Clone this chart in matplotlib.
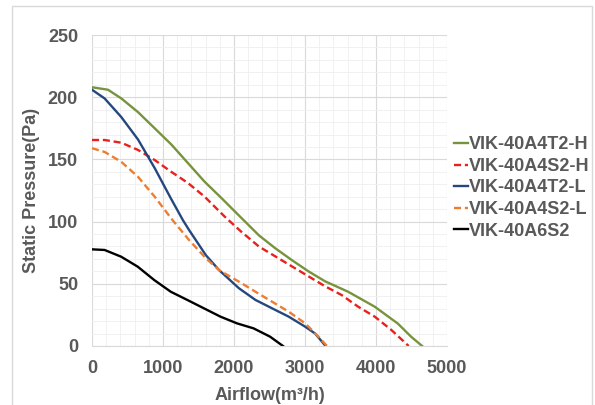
import matplotlib
matplotlib.use("Agg")
import matplotlib.pyplot as plt
from matplotlib.patches import Rectangle
from matplotlib.ticker import MultipleLocator

plt.rcParams['font.family'] = ['Liberation Sans', 'DejaVu Sans']

labels = ["VIK-40A4T2-H", "VIK-40A4S2-H", "VIK-40A4T2-L", "VIK-40A4S2-L", "VIK-40A6S2"]

g_x = [0, 225, 413, 648, 883, 1117, 1352, 1587, 1822, 2103, 2350, 2583, 2816, 3049, 3283, 3608, 3982, 4308, 4494, 4650]
g_y = [208, 206, 199, 188, 175, 162, 147, 132, 119, 103, 89, 78.5, 69, 60, 52, 43.6, 31.6, 18, 7.5, 0]

r_x = [0, 178, 413, 648, 883, 1117, 1352, 1587, 1869, 2100, 2350, 2583, 2816, 3049, 3283, 3515, 3748, 3982, 4214, 4460]
r_y = [165.6, 165.6, 163.4, 157.6, 149.5, 140, 131, 120, 104, 92, 80, 72, 64, 56, 48, 41, 31.6, 23.6, 13, 0]

b_x = [0, 178, 413, 648, 883, 1117, 1282, 1370, 1604, 1790, 2070, 2303, 2536, 2770, 3003, 3143, 3290]
b_y = [206, 199, 184, 166, 143, 118, 101, 93, 73, 61, 46.4, 37, 30.3, 23.6, 15.5, 10, 0]

o_x = [0, 178, 413, 648, 883, 1137, 1370, 1604, 1790, 2070, 2303, 2536, 2770, 3003, 3190, 3310]
o_y = [159, 156, 148, 136, 120, 101, 85, 70.5, 61, 51.7, 43.6, 35.6, 27.6, 18.2, 7.5, 0]

k_x = [0, 177, 410, 643, 877, 1110, 1343, 1576, 1809, 2042, 2275, 2508, 2690]
k_y = [77.7, 77.2, 71.8, 63.8, 53, 43.6, 37, 30.3, 23.6, 18.2, 14.2, 7.5, 0]

colors = ["#77933C", "#E8211D", "#24487E", "#ED7D31", "#000000"]
styles = ["-", (0, (3, 1.6)), "-", (0, (3, 1.6)), "-"]
series = [(g_x, g_y), (r_x, r_y), (b_x, b_y), (o_x, o_y), (k_x, k_y)]

fig = plt.figure(figsize=(5.95, 4.05), dpi=100)
ax = fig.add_axes([92/595, 1-346/405, (447-92)/595, (346-35)/405])

for (xs, ys), c, ls, lab in zip(series, colors, styles, labels):
    ax.plot(xs, ys, color=c, linestyle=ls, linewidth=1.7, label=lab,
            solid_joinstyle='round', dash_joinstyle='round')

ax.set_xlim(0, 5000)
ax.set_ylim(0, 250)
ax.xaxis.set_major_locator(MultipleLocator(1000))
ax.xaxis.set_minor_locator(MultipleLocator(200))
ax.yaxis.set_major_locator(MultipleLocator(50))
ax.yaxis.set_minor_locator(MultipleLocator(10))
ax.grid(which='major', color='#D9D9D9', linewidth=0.8)
ax.grid(which='minor', color='#EFEFEF', linewidth=0.6)
ax.set_axisbelow(True)
for s in ['top', 'right', 'left']:
    ax.spines[s].set_visible(False)
ax.spines['bottom'].set_color('#D9D9D9')
ax.tick_params(which='both', length=0, colors='#595959', labelsize=13)
ax.tick_params(axis='x', pad=10)
ax.tick_params(axis='y', pad=10)
for t in ax.get_xticklabels() + ax.get_yticklabels():
    t.set_fontweight('bold')

ax.set_xlabel("Airflow(m³/h)", fontsize=13, fontweight='bold', color='#595959', labelpad=7)
ax.set_ylabel("Static Pressure(Pa)", fontsize=13, fontweight='bold', color='#595959', labelpad=6)

leg = fig.legend(loc='center left', bbox_to_anchor=(454/595, 1-188/405), frameon=False,
                 handlelength=0.75, handletextpad=0.1, labelspacing=0.25, borderpad=0, borderaxespad=0,
                 prop={'size': 13, 'weight': 'bold'})
for t in leg.get_texts():
    t.set_color('#595959')

fig.patches.append(Rectangle((12/595, -0.05), (592-12)/595, 1.05-6/405, transform=fig.transFigure,
                             fill=False, edgecolor='#D9D9D9', linewidth=1))

fig.savefig("out.png", dpi=100)
